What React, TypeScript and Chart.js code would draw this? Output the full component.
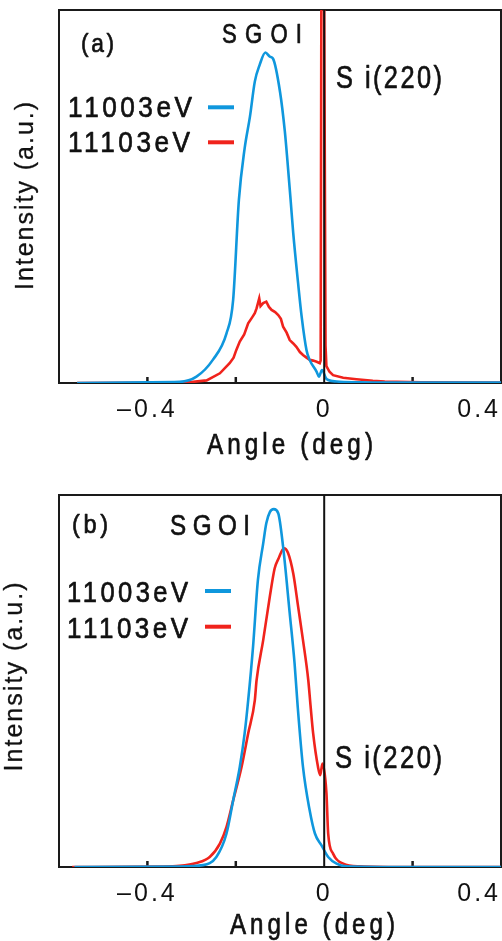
import React, { useEffect, useRef } from 'react';
import { Chart, registerables } from 'chart.js';
Chart.register(...registerables);

// ---------- data: panel (a) ----------
const aBlueAngle = [-0.559, -0.4, -0.327, -0.289, -0.252, -0.221, -0.206, -0.193, -0.18, -0.168, -0.157, -0.146, -0.133, -0.123, -0.116, -0.1, -0.089, -0.083, -0.076, -0.07, -0.059, -0.051, -0.04, -0.033, -0.017, -0.012, -0.005, 0.004, 0.009, 0.028, 0.08, 0.2, 0.4];
const aBlueIntensity = [0, 0.002, 0.003, 0.017, 0.062, 0.133, 0.223, 0.491, 0.629, 0.714, 0.808, 0.853, 0.886, 0.875, 0.87, 0.781, 0.674, 0.593, 0.491, 0.401, 0.267, 0.178, 0.088, 0.062, 0.03, 0.017, 0.035, 0.013, 0.008, 0.004, 0.002, 0.001, 0.001];
const aRedAngle = [-0.559, -0.312, -0.266, -0.236, -0.214, -0.205, -0.199, -0.191, -0.181, -0.172, -0.163, -0.157, -0.153, -0.147, -0.144, -0.138, -0.131, -0.125, -0.119, -0.111, -0.104, -0.098, -0.093, -0.085, -0.078, -0.07, -0.063, -0.055, -0.048, -0.04, -0.033, -0.025, -0.017, -0.01, -0.008, -0.006, -0.001, 0.003, 0.005, 0.012, 0.02, 0.043, 0.073, 0.11, 0.137, 0.22, 0.4];
const aRedIntensity = [0, 0.001, 0.007, 0.026, 0.053, 0.068, 0.088, 0.111, 0.13, 0.16, 0.176, 0.187, 0.2, 0.227, 0.206, 0.214, 0.218, 0.204, 0.196, 0.19, 0.182, 0.172, 0.151, 0.135, 0.115, 0.106, 0.097, 0.083, 0.075, 0.068, 0.062, 0.06, 0.057, 0.053, 0.06, 1.3, 1.3, 0.1, 0.045, 0.03, 0.021, 0.014, 0.01, 0.006, 0.004, 0.002, 0.001];

// ---------- data: panel (b) ----------
const bBlueAngle = [-0.565, -0.33, -0.274, -0.244, -0.221, -0.206, -0.191, -0.18, -0.172, -0.161, -0.15, -0.138, -0.131, -0.123, -0.114, -0.104, -0.093, -0.078, -0.067, -0.06, -0.048, -0.033, -0.021, -0.006, 0.009, 0.028, 0.05, 0.2, 0.4];
const bBlueIntensity = [0, 0.001, 0.005, 0.027, 0.09, 0.179, 0.269, 0.359, 0.448, 0.592, 0.771, 0.87, 0.924, 0.954, 0.962, 0.951, 0.861, 0.682, 0.547, 0.432, 0.269, 0.153, 0.09, 0.058, 0.027, 0.009, 0.002, 0, 0];
const bRedAngle = [-0.57, -0.37, -0.327, -0.289, -0.259, -0.236, -0.221, -0.206, -0.187, -0.172, -0.157, -0.153, -0.138, -0.123, -0.112, -0.103, -0.091, -0.082, -0.07, -0.059, -0.048, -0.036, -0.031, -0.025, -0.014, -0.009, -0.004, 0.005, 0.009, 0.02, 0.043, 0.08, 0.2, 0.4];
const bRedIntensity = [0, 0.001, 0.003, 0.011, 0.027, 0.063, 0.108, 0.179, 0.269, 0.359, 0.448, 0.502, 0.61, 0.727, 0.803, 0.83, 0.857, 0.845, 0.789, 0.7, 0.61, 0.502, 0.435, 0.359, 0.269, 0.247, 0.278, 0.2, 0.09, 0.036, 0.009, 0.002, 0, 0];

// ---------- reference line at 0 deg ----------
const zeroLineAngle = [0, 0];
const zeroLineIntensity = [0, 1];

// ---------- axes ----------
const xMin = -0.6;
const xMax = 0.4;
const xStep = 0.2;
const xTickValues = [-0.4, 0, 0.4];
const xTickText = ['\u20130.4', '0', '0.4'];
const xMinorTicks = [-0.4, -0.2, 0.2];
const legendLabels = ['11003eV', '11103eV'];

const BLUE = '#0f97dd';
const RED = '#f0231c';
const INK = '#111111';
const SANS = "'Liberation Sans', Arial, sans-serif";

type TextItem = { text: string; x: number; y: number; w: number; size: number; spacing: number; rotate?: boolean; bold?: number };
type PanelCfg = {
  key: string;
  height: number;
  top: number;
  axisHeight: number;
  blue: [number[], number[]];
  red: [number[], number[]];
  redSmooth: boolean;
  texts: TextItem[];
  legend: { x1: number; x2: number; y: number; color: string }[];
};

const toXY = (xs: number[], ys: number[]) => xs.map((x, i) => ({ x, y: ys[i] }));

const decor = (cfg: PanelCfg) => ({
  id: 'decor_' + cfg.key,
  beforeDraw(chart: any) {
    chart.ctx.letterSpacing = '3px';
  },
  beforeDatasetsDraw(chart: any) {
    const { ctx, chartArea: a } = chart;
    ctx.save();
    ctx.strokeStyle = '#1a1a1a';
    ctx.lineWidth = 2;
    ctx.strokeRect(a.left, a.top, a.right - a.left, a.bottom - a.top);
    const xs = chart.scales.x;
    ctx.lineWidth = 2.5;
    for (const v of xMinorTicks) {
      const px = xs.getPixelForValue(v);
      ctx.beginPath();
      ctx.moveTo(px, a.bottom);
      ctx.lineTo(px, a.bottom - 6);
      ctx.stroke();
    }
    ctx.restore();
  },
  afterDraw(chart: any) {
    const ctx = chart.ctx;
    ctx.save();
    ctx.fillStyle = INK;
    ctx.strokeStyle = INK;
    for (const t of cfg.texts) {
      ctx.save();
      ctx.font = `${t.size}px ${SANS}`;
      ctx.letterSpacing = `${t.spacing}px`;
      const natural = Math.max(1, ctx.measureText(t.text).width - t.spacing);
      const sx = t.w / natural;
      ctx.translate(t.x, t.y);
      if (t.rotate) ctx.rotate(-Math.PI / 2);
      ctx.scale(sx, 1);
      ctx.textAlign = t.rotate ? 'center' : 'left';
      ctx.textBaseline = t.rotate ? 'middle' : 'alphabetic';
      const ox = t.rotate ? t.spacing / 2 : 0;
      ctx.fillText(t.text, ox, 0);
      ctx.lineWidth = t.bold ?? 0.7;
      ctx.lineJoin = 'round';
      if (ctx.lineWidth > 0) ctx.strokeText(t.text, ox, 0);
      ctx.restore();
    }
    ctx.lineWidth = 4;
    for (const l of cfg.legend) {
      ctx.strokeStyle = l.color;
      ctx.beginPath();
      ctx.moveTo(l.x1, l.y);
      ctx.lineTo(l.x2, l.y);
      ctx.stroke();
    }
    ctx.restore();
  },
});

function Panel({ cfg }: { cfg: PanelCfg }) {
  const ref = useRef<HTMLCanvasElement>(null);
  useEffect(() => {
    const chart = new Chart(ref.current as HTMLCanvasElement, {
      type: 'line',
      data: {
        datasets: [
          { data: toXY(zeroLineAngle, zeroLineIntensity), borderColor: INK, borderWidth: 2, pointRadius: 0, order: 0 },
          { data: toXY(cfg.blue[0], cfg.blue[1]), borderColor: BLUE, borderWidth: 2.6, pointRadius: 0, order: 1, cubicInterpolationMode: 'monotone' },
          { data: toXY(cfg.red[0], cfg.red[1]), borderColor: RED, borderWidth: 2.6, pointRadius: 0, order: 2, cubicInterpolationMode: cfg.redSmooth ? 'monotone' : 'default', tension: 0 },
        ] as any,
      },
      options: {
        responsive: false,
        animation: false,
        devicePixelRatio: 1,
        events: [],
        layout: { padding: { left: 59, right: 1, top: cfg.top, bottom: 0 } },
        plugins: { legend: { display: false }, tooltip: { enabled: false } },
        scales: {
          x: {
            type: 'linear',
            min: xMin,
            max: xMax,
            grid: { display: false },
            border: { display: false },
            afterFit: (s: any) => {
              s.height = cfg.axisHeight;
              s.paddingLeft = 0;
              s.paddingRight = 0;
            },
            ticks: {
              stepSize: xStep,
              autoSkip: false,
              maxRotation: 0,
              align: 'inner',
              padding: 4,
              color: INK,
              font: { family: SANS, size: 25 },
              callback: (v: any) => {
                const i = xTickValues.findIndex((t) => Math.abs(t - Number(v)) < 1e-6);
                return i >= 0 ? xTickText[i] : '';
              },
            },
          },
          y: { display: false, min: 0, max: 1 },
        },
      } as any,
      plugins: [decor(cfg) as any],
    });
    return () => chart.destroy();
  }, []);
  return <canvas ref={ref} width={502} height={cfg.height} style={{ display: 'block' }} />;
}

const panelA: PanelCfg = {
  key: 'a',
  height: 470,
  top: 10,
  axisHeight: 87,
  blue: [aBlueAngle, aBlueIntensity],
  red: [aRedAngle, aRedIntensity],
  redSmooth: false,
  texts: [
    { text: '(a)', x: 81, y: 52, w: 33, size: 26, spacing: 3 },
    { text: 'SGOI', x: 222, y: 43, w: 80, size: 27, spacing: 10 },
    { text: legendLabels[0], x: 68, y: 117, w: 124, size: 30, spacing: 4 },
    { text: legendLabels[1], x: 68, y: 152, w: 122, size: 30, spacing: 4 },
    { text: 'S i(220)', x: 336, y: 88, w: 106, size: 31, spacing: 3 },
    { text: 'Angle (deg)', x: 207, y: 454, w: 166, size: 30, spacing: 5 },
    { text: 'Intensity (a.u.)', x: 26, y: 196, w: 188, size: 25, spacing: 2, rotate: true, bold: 0.3 },
  ],
  legend: [
    { x1: 208, x2: 234, y: 107.3, color: BLUE },
    { x1: 208, x2: 234, y: 142.3, color: RED },
  ],
};

const panelB: PanelCfg = {
  key: 'b',
  height: 471,
  top: 25,
  axisHeight: 74,
  blue: [bBlueAngle, bBlueIntensity],
  red: [bRedAngle, bRedIntensity],
  redSmooth: true,
  texts: [
    { text: '(b)', x: 72, y: 63, w: 36, size: 26, spacing: 4 },
    { text: 'SGOI', x: 170, y: 65, w: 80, size: 30, spacing: 8 },
    { text: legendLabels[0], x: 67, y: 132, w: 121, size: 30, spacing: 4 },
    { text: legendLabels[1], x: 67, y: 168, w: 121, size: 30, spacing: 4 },
    { text: 'S i(220)', x: 335, y: 298, w: 107, size: 31, spacing: 3 },
    { text: 'Angle (deg)', x: 230, y: 464, w: 165, size: 30, spacing: 5 },
    { text: 'Intensity (a.u.)', x: 15, y: 207, w: 189, size: 25, spacing: 2, rotate: true, bold: 0.3 },
  ],
  legend: [
    { x1: 205, x2: 231, y: 121, color: BLUE },
    { x1: 205, x2: 231, y: 156.7, color: RED },
  ],
};

export default function App() {
  return (
    <div style={{ position: 'fixed', left: 0, top: 0, width: 502, height: 941, background: '#fff', overflow: 'hidden' }}>
      <Panel cfg={panelA} />
      <Panel cfg={panelB} />
    </div>
  );
}
